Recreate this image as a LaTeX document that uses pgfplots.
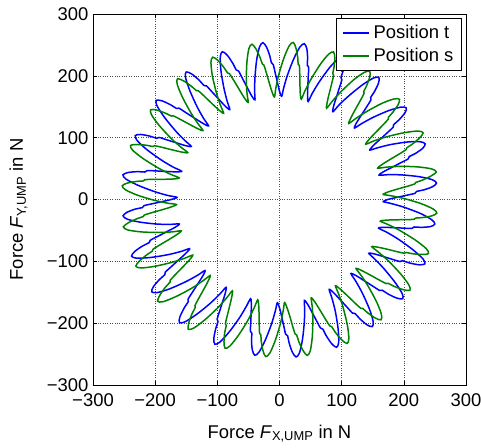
\documentclass[border=0pt]{standalone}
\usepackage{fontspec}
\setmainfont{Liberation Sans}
\usepackage{pgfplots}
\pgfplotsset{compat=1.18}
\newcommand\fsz{\fontsize{18.5}{21}\selectfont}
\definecolor{mblue}{rgb}{0,0,1}
\definecolor{mgreen}{rgb}{0,0.5,0}
\begin{document}
\begin{tikzpicture}
\begin{axis}[
 scale only axis, width=373bp, height=371bp,
 xmin=-300,xmax=300,ymin=-300,ymax=300,
 xtick={-300,-200,-100,0,100,200,300},
 ytick={-300,-200,-100,0,100,200,300},
 xticklabels={−300,−200,−100,0,100,200,300},
 yticklabels={−300,−200,−100,0,100,200,300},
 tick label style={font=\fsz},
 yticklabel style={xshift=-1bp},
 xticklabel style={yshift=-5bp},
 tick align=inside, major tick length=4bp, tick style={black, line width=0.6pt},
 grid=major, grid style={black!70, dotted, line width=0.6pt},
 axis line style={black, line width=0.9pt},
 legend style={at={(0.989,0.989)}, anchor=north east, draw=black, line width=0.9pt, font=\fsz, fill=white, inner xsep=6bp, inner ysep=5bp, row sep=4bp, cells={anchor=west}},
 legend image code/.code={\draw[#1, line width=1.5pt] (0bp,0bp) -- (26bp,0bp);},
]
\addplot[mblue, line width=1.5pt, smooth, tension=0.5, data cs=polar] coordinates {
(-1.2,166) (0,174) (1.1,190) (2,206) (2.6,218) (3.4,221) (3.8,232) (4.8,247) (6,254) (7.4,248) (9.3,228) (11.4,201) (12.9,180)
(13.8,165) (15,173) (16.1,189) (17,205) (17.6,217) (18.4,220) (18.8,231) (19.8,245) (21,251) (22.4,245) (24.3,226) (26.4,200) (27.9,179)
(28.8,166) (30,174) (31.1,190) (32,206) (32.6,217) (33.4,220) (33.8,231) (34.8,246) (36,252) (37.4,246) (39.3,227) (41.4,201) (42.9,180)
(43.8,167) (45,175) (46.1,191) (47,207) (47.6,218) (48.4,221) (48.8,232) (49.8,247) (51,254) (52.4,248) (54.3,228) (56.4,201) (57.9,181)
(58.8,166) (60,174) (61.1,190) (62,206) (62.6,218) (63.4,221) (63.8,232) (64.8,247) (66,253) (67.4,247) (69.3,228) (71.4,201) (72.9,180)
(73.8,165) (75,174) (76.1,190) (77,206) (77.6,219) (78.4,222) (78.8,233) (79.8,248) (81,255) (82.4,249) (84.3,228) (86.4,201) (87.9,180)
(88.8,167) (90,175) (91.1,191) (92,206) (92.6,218) (93.4,222) (93.8,232) (94.8,247) (96,255) (97.4,249) (99.3,228) (101.4,200) (102.9,179)
(103.8,166) (105,174) (106.1,190) (107,206) (107.6,218) (108.4,221) (108.8,232) (109.8,248) (111,256) (112.4,250) (114.3,229) (116.4,201) (117.9,180)
(118.8,166) (120,174) (121.1,190) (122,206) (122.6,218) (123.4,221) (123.8,232) (124.8,247) (126,255) (127.4,249) (129.3,228) (131.4,201) (132.9,180)
(133.8,165) (135,174) (136.1,190) (137,206) (137.6,219) (138.4,222) (138.8,232) (139.8,247) (141,255) (142.4,249) (144.3,228) (146.4,201) (147.9,180)
(148.8,166) (150,174) (151.1,190) (152,206) (152.6,218) (153.4,221) (153.8,232) (154.8,247) (156,254) (157.4,248) (159.3,228) (161.4,201) (162.9,180)
(163.8,164) (165,173) (166.1,189) (167,206) (167.6,218) (168.4,221) (168.8,232) (169.8,247) (171,255) (172.4,249) (174.3,228) (176.4,201) (177.9,180)
(178.8,165) (180,174) (181.1,190) (182,206) (182.6,218) (183.4,221) (183.8,232) (184.8,246) (186,253) (187.4,247) (189.3,227) (191.4,201) (192.9,180)
(193.8,166) (195,174) (196.1,190) (197,206) (197.6,218) (198.4,221) (198.8,232) (199.8,247) (201,255) (202.4,249) (204.3,228) (206.4,201) (207.9,180)
(208.8,165) (210,174) (211.1,190) (212,206) (212.6,218) (213.4,221) (213.8,232) (214.8,247) (216,254) (217.4,248) (219.3,228) (221.4,201) (222.9,180)
(223.8,166) (225,174) (226.1,190) (227,206) (227.6,218) (228.4,221) (228.8,232) (229.8,248) (231,256) (232.4,250) (234.3,229) (236.4,202) (237.9,180)
(238.8,166) (240,174) (241.1,190) (242,206) (242.6,218) (243.4,221) (243.8,232) (244.8,248) (246,256) (247.4,250) (249.3,229) (251.4,202) (252.9,180)
(253.8,167) (255,175) (256.1,190) (257,206) (257.6,218) (258.4,221) (258.8,232) (259.8,247) (261,255) (262.4,249) (264.3,228) (266.4,201) (267.9,180)
(268.8,167) (270,175) (271.1,190) (272,206) (272.6,218) (273.4,221) (273.8,232) (274.8,248) (276,256) (277.4,250) (279.3,229) (281.4,202) (282.9,181)
(283.8,168) (285,176) (286.1,191) (287,207) (287.6,218) (288.4,221) (288.8,232) (289.8,248) (291,256) (292.4,250) (294.3,229) (296.4,202) (297.9,180)
(298.8,166) (300,174) (301.1,190) (302,206) (302.6,218) (303.4,221) (303.8,232) (304.8,247) (306,254) (307.4,248) (309.3,228) (311.4,201) (312.9,180)
(313.8,166) (315,174) (316.1,190) (317,206) (317.6,218) (318.4,221) (318.8,232) (319.8,247) (321,255) (322.4,249) (324.3,228) (326.4,201) (327.9,180)
(328.8,168) (330,176) (331.1,191) (332,207) (332.6,218) (333.4,221) (333.8,232) (334.8,248) (336,256) (337.4,250) (339.3,229) (341.4,202) (342.9,181)
(343.8,166) (345,174) (346.1,190) (347,206) (347.6,218) (348.4,221) (348.8,232) (349.8,247) (351,253) (352.4,247) (354.3,228) (356.4,201) (357.9,180) (358.8,166)
};
\addlegendentry{\hspace{2bp}Position t\hspace{12bp}}
\addplot[mgreen, line width=1.5pt, smooth, tension=0.5, data cs=polar] coordinates {
(2.8,166) (4,175) (5.1,191) (6,208) (6.6,219) (7.2,221) (7.7,231) (8.8,246) (10,256) (11.4,250) (13.3,229) (15.4,202) (16.9,180)
(17.8,166) (19,175) (20.1,191) (21,208) (21.6,219) (22.2,221) (22.7,231) (23.8,246) (25,255) (26.4,249) (28.3,228) (30.4,201) (31.9,180)
(32.8,165) (34,174) (35.1,190) (36,207) (36.6,218) (37.2,220) (37.7,230) (38.8,245) (40,252) (41.4,246) (43.3,227) (45.4,200) (46.9,179)
(47.8,166) (49,175) (50.1,191) (51,208) (51.6,219) (52.2,221) (52.7,231) (53.8,246) (55,253) (56.4,247) (58.3,228) (60.4,201) (61.9,180)
(62.8,166) (64,175) (65.1,191) (66,208) (66.6,219) (67.2,221) (67.7,231) (68.8,246) (70,254) (71.4,248) (73.3,228) (75.4,201) (76.9,180)
(77.8,166) (79,175) (80.1,191) (81,208) (81.6,219) (82.2,221) (82.7,231) (83.8,246) (85,255) (86.4,249) (88.3,228) (90.4,201) (91.9,180)
(92.8,166) (94,175) (95.1,191) (96,208) (96.6,219) (97.2,221) (97.7,231) (98.8,246) (100,255) (101.4,249) (103.3,228) (105.4,201) (106.9,180)
(107.8,165) (109,174) (110.1,191) (111,208) (111.6,219) (112.2,221) (112.7,231) (113.8,246) (115,254) (116.4,248) (118.3,228) (120.4,201) (121.9,180)
(122.8,166) (124,175) (125.1,191) (126,208) (126.6,219) (127.2,221) (127.7,231) (128.8,246) (130,255) (131.4,249) (133.3,228) (135.4,201) (136.9,180)
(137.8,166) (139,175) (140.1,191) (141,207) (141.6,218) (142.2,220) (142.7,230) (143.8,245) (145,253) (146.4,247) (148.3,227) (150.4,201) (151.9,180)
(152.8,166) (154,175) (155.1,191) (156,208) (156.6,219) (157.2,221) (157.7,231) (158.8,246) (160,255) (161.4,249) (163.3,228) (165.4,201) (166.9,180)
(167.8,165) (169,174) (170.1,190) (171,208) (171.6,219) (172.2,221) (172.7,231) (173.8,246) (175,254) (176.4,248) (178.3,228) (180.4,201) (181.9,180)
(182.8,166) (184,175) (185.1,191) (186,208) (186.6,219) (187.2,221) (187.7,231) (188.8,246) (190,255) (191.4,249) (193.3,228) (195.4,201) (196.9,180)
(197.8,166) (199,175) (200.1,191) (201,208) (201.6,219) (202.2,221) (202.7,231) (203.8,246) (205,255) (206.4,249) (208.3,228) (210.4,201) (211.9,180)
(212.8,166) (214,175) (215.1,191) (216,208) (216.6,219) (217.2,221) (217.7,232) (218.8,247) (220,256) (221.4,250) (223.3,229) (225.4,202) (226.9,180)
(227.8,166) (229,175) (230.1,191) (231,208) (231.6,219) (232.2,221) (232.7,232) (233.8,247) (235,256) (236.4,250) (238.3,229) (240.4,202) (241.9,180)
(242.8,166) (244,175) (245.1,191) (246,208) (246.6,219) (247.2,221) (247.7,232) (248.8,247) (250,256) (251.4,250) (253.3,229) (255.4,202) (256.9,180)
(257.8,166) (259,175) (260.1,191) (261,208) (261.6,219) (262.2,221) (262.7,231) (263.8,246) (265,255) (266.4,249) (268.3,228) (270.4,201) (271.9,180)
(272.8,167) (274,176) (275.1,191) (276,208) (276.6,219) (277.2,221) (277.7,232) (278.8,247) (280,256) (281.4,250) (283.3,229) (285.4,202) (286.9,181)
(287.8,167) (289,176) (290.1,192) (291,209) (291.6,220) (292.2,222) (292.7,233) (293.8,248) (295,257) (296.4,251) (298.3,230) (300.4,202) (301.9,180)
(302.8,166) (304,175) (305.1,191) (306,208) (306.6,219) (307.2,221) (307.7,231) (308.8,246) (310,254) (311.4,248) (313.3,228) (315.4,201) (316.9,180)
(317.8,166) (319,175) (320.1,191) (321,208) (321.6,219) (322.2,221) (322.7,232) (323.8,247) (325,256) (326.4,250) (328.3,229) (330.4,202) (331.9,180)
(332.8,167) (334,176) (335.1,191) (336,208) (336.6,219) (337.2,221) (337.7,231) (338.8,246) (340,255) (341.4,249) (343.3,228) (345.4,201) (346.9,180)
(347.8,166) (349,175) (350.1,191) (351,208) (351.6,219) (352.2,221) (352.7,231) (353.8,246) (355,254) (356.4,248) (358.3,228) (360.4,201) (361.9,180) (362.8,166)
};
\addlegendentry{\hspace{2bp}Position s\hspace{12bp}}
\coordinate (SW) at (rel axis cs:0,0);
\coordinate (S) at (rel axis cs:0.5,0);
\coordinate (W) at (rel axis cs:0,0.5);
\end{axis}
\node[font=\fsz, anchor=base] at ([yshift=-53bp]S) {Force \textit{F}\textsubscript{X,UMP} in N};
\node[font=\fsz, anchor=base, rotate=90] at ([xshift=-70bp,yshift=-10bp]W) {Force \textit{F}\textsubscript{Y,UMP} in N};
\pgfresetboundingbox
\path ([xshift=-93bp,yshift=-63bp]SW) rectangle ++(481bp,448bp);
\end{tikzpicture}
\end{document}
